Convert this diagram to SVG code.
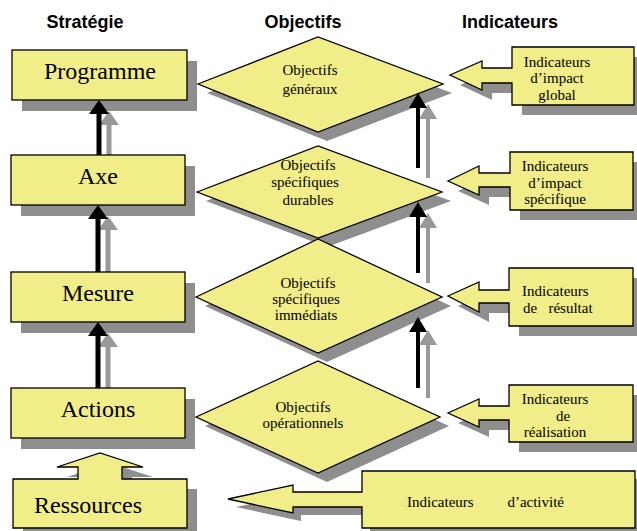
<svg xmlns="http://www.w3.org/2000/svg" width="637" height="531" viewBox="0 0 637 531">
<style>
.hdr{font-family:"Liberation Sans",Arial,sans-serif;font-weight:bold;font-size:18px;fill:#000;text-anchor:middle}
.big{font-family:"Liberation Serif","Times New Roman",serif;font-size:24px;fill:#000;text-anchor:middle}
.sm{font-family:"Liberation Serif","Times New Roman",serif;font-size:15px;fill:#000;text-anchor:middle}
.smL{font-family:"Liberation Serif","Times New Roman",serif;font-size:15px;fill:#000;white-space:pre}
.box{fill:#F1ED89;stroke:#000;stroke-width:1.3}
.shd{fill:#8E8E8E}
.blk{fill:#000}
.gry{fill:#999999}
</style>
<rect width="637" height="531" fill="#fff"/>
<g id="headers">
<text class="hdr" x="85" y="28">Stratégie</text>
<text class="hdr" x="303" y="28">Objectifs</text>
<text class="hdr" x="510" y="28">Indicateurs</text>
</g>
<g id="connectors">
<path class="gry" d="M106.5,166 V125 H99 L109,111 L119,125 H111.5 V166 Z"/>
<path class="gry" d="M105.5,283 V230 H98 L108,216 L118,230 H110.5 V283 Z"/>
<path class="gry" d="M105.5,399 V347 H98 L108,333 L118,347 H110.5 V399 Z"/>
<path class="gry" d="M426,178 V119 H419 L428,104 L437,119 H430 V178 Z"/>
<path class="gry" d="M426,283 V228 H419 L428,213 L437,228 H430 V283 Z"/>
<path class="gry" d="M426,398 V345 H419 L428,330 L437,345 H430 V398 Z"/>
</g>
<g id="programme">
<rect class="shd" x="22" y="61" width="175" height="50"/>
<rect class="box" x="12" y="50" width="175" height="50"/>
<text class="big" x="100" y="79">Programme</text>
</g>
<g id="axe">
<rect class="shd" x="21" y="166" width="174" height="50"/>
<rect class="box" x="11" y="155" width="174" height="50"/>
<text class="big" x="98" y="184">Axe</text>
</g>
<g id="mesure">
<rect class="shd" x="21" y="283" width="174" height="50"/>
<rect class="box" x="11" y="272" width="174" height="50"/>
<text class="big" x="98" y="301">Mesure</text>
</g>
<g id="actions">
<rect class="shd" x="21" y="399" width="174" height="50"/>
<rect class="box" x="11" y="388" width="174" height="50"/>
<text class="big" x="98" y="417">Actions</text>
</g>
<g id="ressources">
<path class="shd" d="M23,489 H88 V477 H67 L110,463 L153,477 H132 V489 H197 V538 H23 Z"/>
<path class="box" d="M13,479 H78 V467 H57 L100,453 L143,467 H122 V479 H187 V528 H13 Z"/>
<text class="big" x="88" y="513">Ressources</text>
</g>
<g id="obj-generaux">
<polygon class="shd" points="207,93 327,46 452,93 327,141"/>
<polygon class="box" points="198,84 318,37 443,84 318,132"/>
<text class="sm" x="310" y="75">Objectifs</text>
<text class="sm" x="310" y="94">généraux</text>
</g>
<g id="obj-durables">
<polygon class="shd" points="206,201 327,155 451,201 327,247"/>
<polygon class="box" points="197,192 318,146 442,192 318,238"/>
<text class="sm" x="308" y="170">Objectifs</text>
<text class="sm" x="305" y="187">spécifiques</text>
<text class="sm" x="308" y="205">durables</text>
</g>
<g id="obj-immediats">
<polygon class="shd" points="205,306 327,248 451,306 327,362"/>
<polygon class="box" points="196,297 318,239 442,297 318,353"/>
<text class="sm" x="308" y="288">Objectifs</text>
<text class="sm" x="306" y="304">spécifiques</text>
<text class="sm" x="306" y="320">immédiats</text>
</g>
<g id="obj-operationnels">
<polygon class="shd" points="205,426 327,370 449,426 327,482"/>
<polygon class="box" points="196,417 318,361 440,417 318,473"/>
<text class="sm" x="303" y="412">Objectifs</text>
<text class="sm" x="303" y="428">opérationnels</text>
</g>
<g id="arrows-front">
<path class="blk" d="M96.5,155 V114 H89 L99,100 L109,114 H101.5 V155 Z"/>
<path class="blk" d="M95.5,272 V219 H88 L98,205 L108,219 H100.5 V272 Z"/>
<path class="blk" d="M95.5,388 V336 H88 L98,322 L108,336 H100.5 V388 Z"/>
<path class="blk" d="M416,168 V108 H409 L418,93 L427,108 H420 V168 Z"/>
<path class="blk" d="M416,273 V217 H409 L418,202 L427,217 H420 V273 Z"/>
<path class="blk" d="M416,388 V332 H409 L418,317 L427,332 H420 V388 Z"/>
</g>
<g id="ind-global">
<path class="shd" d="M460,85 L492,71 V78 H522 V57 H644 V115 H522 V93 H492 V100 Z"/>
<path class="box" d="M450,75 L482,61 V68 H512 V47 H634 V105 H512 V83 H482 V90 Z"/>
<text class="sm" x="557" y="67">Indicateurs</text>
<text class="sm" x="557" y="83">d’impact</text>
<text class="sm" x="557" y="100">global</text>
</g>
<g id="ind-specifique">
<path class="shd" d="M458,191 L489,176 V183 H520 V162 H643 V220 H520 V197 H489 V205 Z"/>
<path class="box" d="M448,181 L479,166 V173 H510 V152 H633 V210 H510 V187 H479 V195 Z"/>
<text class="sm" x="555" y="171">Indicateurs</text>
<text class="sm" x="555" y="188">d’impact</text>
<text class="sm" x="555" y="204">spécifique</text>
</g>
<g id="ind-resultat">
<path class="shd" d="M458,306 L489,292 V300 H519 V278 H643 V336 H519 V313 H489 V322 Z"/>
<path class="box" d="M448,296 L479,282 V290 H509 V268 H633 V326 H509 V303 H479 V312 Z"/>
<text class="smL" x="522" y="296">Indicateurs</text>
<text class="smL" x="523" y="313">de   résultat</text>
</g>
<g id="ind-realisation">
<path class="shd" d="M458,423 L489,409 V416 H519 V395 H643 V452 H519 V430 H489 V437 Z"/>
<path class="box" d="M448,413 L479,399 V406 H509 V385 H633 V442 H509 V420 H479 V427 Z"/>
<text class="sm" x="555" y="404">Indicateurs</text>
<text class="sm" x="563" y="421">de</text>
<text class="sm" x="555" y="437">réalisation</text>
</g>
<g id="ind-activite">
<path class="shd" d="M236,507 L301,493 V500 H370 V479 H643 V538 H370 V515 H301 V521 Z"/>
<path class="box" d="M228,499 L293,485 V492 H362 V471 H635 V528 H362 V507 H293 V513 Z"/>
<text class="smL" x="407" y="507">Indicateurs         d’activité</text>
</g>
</svg>
